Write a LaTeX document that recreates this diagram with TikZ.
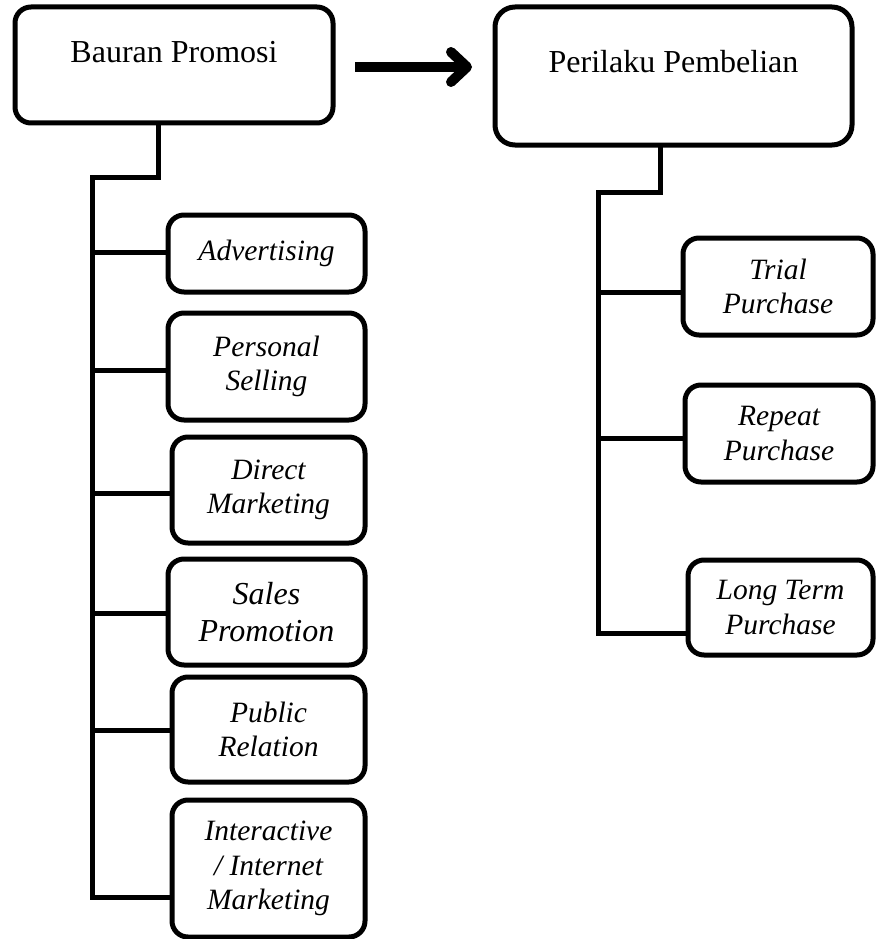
\documentclass[tikz,border=0pt]{standalone}
\usepackage{fontspec}
\setmainfont{Liberation Serif}
\usetikzlibrary{arrows.meta}
\tikzset{
  box/.style={draw, line width=5pt, rounded corners=16pt, inner sep=0pt, align=center},
  conn/.style={line width=5pt, line cap=rect},
  childtext/.style={font=\itshape\fontsize{29.5}{34.5}\selectfont},
  bigarrow/.style={line width=10pt, -{Straight Barb[length=16pt, width=30pt, line cap=round, line join=round]}}
}
\begin{document}
\begin{tikzpicture}[x=1pt, y=-1pt]
\useasboundingbox[fill=white] (0,0) rectangle (875,939);
% top boxes
\node[box, minimum width=318pt, text height=56pt, text depth=60pt, font=\fontsize{32}{36}\selectfont] (bp) at (174,65) {Bauran Promosi};
\node[box, rounded corners=20pt, minimum width=357pt, text height=66pt, text depth=72pt, font=\fontsize{32}{36}\selectfont] (pp) at (673.5,76) {Perilaku Pembelian};
% arrow
\coordinate (a1) at (355,67);
\coordinate (a2) at (472,67);
\draw[bigarrow] (a1) -- (a2);
% left children
\node[box, childtext, minimum width=197pt, minimum height=77pt] (adv) at (266.5,253.5) {Advertising};
\node[box, childtext, minimum width=197pt, minimum height=107pt] (ps) at (266.5,366.5) {Personal\\Selling};
\node[box, childtext, minimum width=193pt, minimum height=106pt] (dm) at (268.5,490) {Direct\\Marketing};
\node[box, childtext, font=\itshape\fontsize{32}{37}\selectfont, minimum width=197pt, minimum height=106pt] (sp) at (266.5,612) {Sales\\Promotion};
\node[box, childtext, minimum width=193pt, minimum height=105pt] (pr) at (268.5,729.5) {Public\\Relation};
\node[box, childtext, minimum width=193pt, minimum height=137pt] (im) at (268.5,868.5) {Interactive\\/ Internet\\Marketing};
% right children
\node[box, childtext, minimum width=190pt, minimum height=97pt] (tp) at (778,286.5) {Trial\\Purchase};
\node[box, childtext, minimum width=188pt, minimum height=97pt] (rp) at (779,433.5) {Repeat\\Purchase};
\node[box, childtext, minimum width=185pt, minimum height=95pt] (lt) at (780.5,607.5) {Long Term\\Purchase};
% left tree
\coordinate (ls) at (158,177);
\coordinate (lt0) at (92,177);
\coordinate (l1) at (92,252);
\coordinate (l2) at (92,370);
\coordinate (l3) at (92,493);
\coordinate (l4) at (92,613);
\coordinate (l5) at (92,730);
\coordinate (l6) at (92,897);
\draw[conn] (bp.south -| ls) -- (ls) -- (lt0) -- (l6);
\draw[conn] (l1) -- (l1 -| adv.west);
\draw[conn] (l2) -- (l2 -| ps.west);
\draw[conn] (l3) -- (l3 -| dm.west);
\draw[conn] (l4) -- (l4 -| sp.west);
\draw[conn] (l5) -- (l5 -| pr.west);
\draw[conn] (l6) -- (l6 -| im.west);
% right tree
\coordinate (rs) at (660,192);
\coordinate (rt0) at (598,192);
\coordinate (r1) at (598,292);
\coordinate (r2) at (598,438);
\coordinate (r3) at (598,633);
\draw[conn] (pp.south -| rs) -- (rs) -- (rt0) -- (r3);
\draw[conn] (r1) -- (r1 -| tp.west);
\draw[conn] (r2) -- (r2 -| rp.west);
\draw[conn] (r3) -- (r3 -| lt.west);
\end{tikzpicture}
\end{document}
